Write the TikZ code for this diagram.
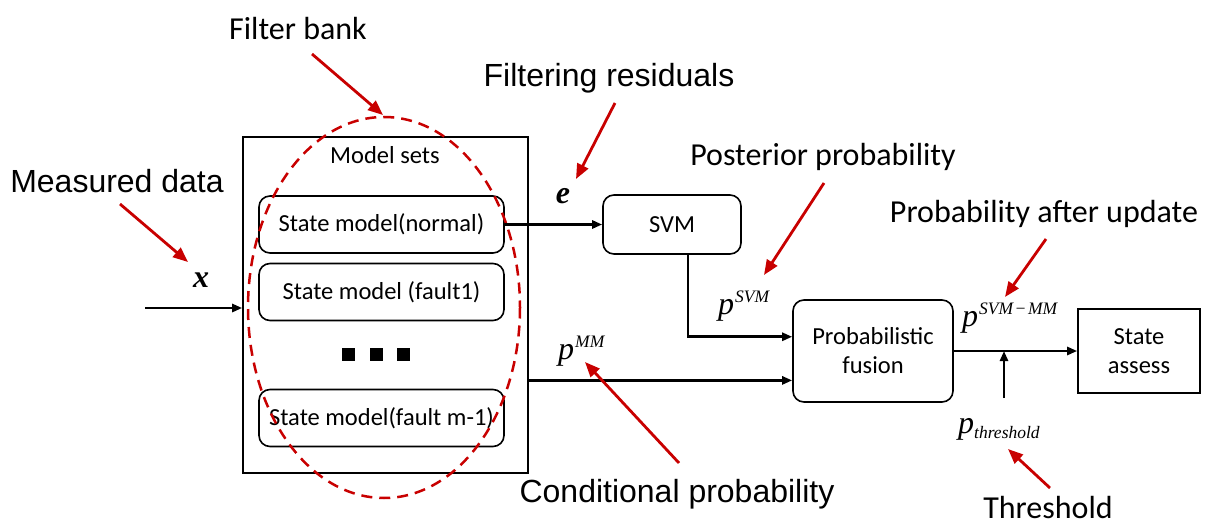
\documentclass[tikz,border=0pt]{standalone}
\usepackage{fontspec}
\setmainfont{Carlito}
\newfontfamily\arialfont{Liberation Sans}
\newfontfamily\timesfont{Liberation Serif}
\usetikzlibrary{arrows.meta}
\definecolor{notered}{RGB}{200,0,0}
\newcommand\notesize{\fontsize{32}{38}\selectfont}
\newcommand\boxsize{\fontsize{24.5}{29}\selectfont}
\newcommand\psup[1]{{\timesfont\itshape\fontsize{32}{38}\selectfont p\kern1pt\raisebox{12pt}{\fontsize{17.5}{20}\selectfont #1}}}
\newcommand\psub[1]{{\timesfont\itshape\fontsize{32}{38}\selectfont p\raisebox{-5pt}{\fontsize{17.5}{20}\selectfont #1}}}
\newcommand\vecvar[1]{{\timesfont\bfseries\itshape\fontsize{32}{38}\selectfont #1}}

\tikzset{
  block/.style={draw,line width=1.6pt,rounded corners=11pt,font=\boxsize,align=center,inner sep=0pt},
  flow/.style={line width=2.6pt,-{Triangle[length=10pt,width=8pt]}},
  note/.style={line width=2.8pt,notered,-{Triangle[length=15pt,width=12pt]}}
}

\begin{document}
\begin{tikzpicture}[x=1pt,y=-1pt]
\useasboundingbox (0,0) rectangle (1208,527);

% filter bank
\node[draw,line width=1.6pt,minimum width=285pt,minimum height=336pt] (bank) at (385.5,305) {};
\node[font=\boxsize] (sets) at (385,155) {Model sets};
\node[block,minimum width=245pt,minimum height=57pt] (normal) at (381.5,224.5) {State model(normal)};
\node[block,minimum width=245pt,minimum height=57pt] (fault1) at (381.5,292) {State model (fault1)};
\node[block,minimum width=245pt,minimum height=57pt] (faultm) at (381.5,418) {State model(fault m-1)};
\foreach \dx in {348,376,403}
  \fill (\dx-6.5,347.5) rectangle ++(13,13);
\draw[notered,line width=2.5pt,dash pattern=on 11pt off 7pt] (384,307.5) ellipse [x radius=136,y radius=190.5];

\node[block,minimum width=138pt,minimum height=59pt] (svm) at (672,224.5) {SVM};
\node[block,minimum width=160pt,minimum height=102pt] (fusion) at (873,351) {Probabilistic\\fusion};
\node[draw,line width=1.6pt,font=\boxsize,align=center,minimum width=122pt,minimum height=84pt] (assess) at (1139,351) {State\\assess};

% signals
\node (x) at (201,280) {\vecvar{x}};
\node (e) at (563,196) {\vecvar{e}};
\node[anchor=base west,inner sep=0pt] (pmm) at (558,359) {\psup{MM}};
\node[anchor=base west,inner sep=0pt] (psvm) at (718,314) {\psup{SVM}};
\node[anchor=base west,inner sep=0pt] (pupd) at (962,326) {\psup{SVM\kern1.5pt−\kern1.5pt MM}};
\node[anchor=base west,inner sep=0pt] (pthr) at (958,433) {\psub{threshold}};

\coordinate (xin) at (145,308);
\coordinate (thr) at (1004,398);
\draw[flow] (xin) -- (xin -| bank.west);
\draw[flow] (normal.east) -- (normal.east -| svm.west);
\draw[flow] ([xshift=16pt]svm.south) |- (fusion.170);
\draw[flow] (bank.east |- fusion.200) -- (fusion.200);
\draw[flow] (fusion.east) -- (assess.west);
\draw[flow] (thr) -- (thr |- fusion.east);

% annotations
\node[font=\notesize] (fbank) at (298,29) {Filter bank};
\node[font=\notesize\arialfont] (fres) at (609,78) {Filtering residuals};
\node[font=\notesize\arialfont] (meas) at (117,181) {Measured data};
\node[font=\notesize] (post) at (823,157) {Posterior probability};
\node[font=\notesize] (upd) at (1044,214) {Probability after update};
\node[font=\notesize\arialfont] (cond) at (677,494) {Conditional probability};
\node[font=\notesize] (thres) at (1048,508) {Threshold};
\foreach \n/\xa/\ya/\xb/\yb in {fb/312/54/383/115, fr/615/103/576/179, md/120/204/188/262,
    pp/824/183/764/275, pa/1046/239/1005/297, cp/679/463/585/362, th/1050/488/1008/449}
  \draw[note] (\xa,\ya) coordinate (\n0) -- (\xb,\yb) coordinate (\n1);
\end{tikzpicture}
\end{document}
